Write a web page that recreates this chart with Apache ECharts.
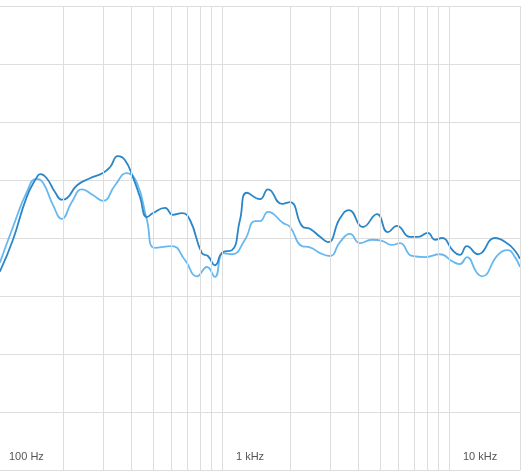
<!DOCTYPE html>
<html>
<head>
<meta charset="utf-8">
<script src="https://cdn.jsdelivr.net/npm/echarts@6/dist/echarts.min.js"></script>
<style>html,body{margin:0;padding:0;background:#fff}#chart{width:522px;height:476px}</style>
</head>
<body>
<div id="chart"></div>
<script>
// frequency (Hz) / level pairs
const darkFreq = [105,120,138,153,158,169,184,197,208,230,262,299,321,348,374,405,435,467,497,561,608,667,723,816,867,931,1010,1107,1200,1289,1469,1596,1837,1995,2275,2441,2704,2931,3311,3626,4178,4819,5383,5902,6730,7298,8072,8675,9312,10420,11170,11990,13420,15950,18030,19540,20560]
const darkLevel = [34.2,39.7,47.1,50.5,51.0,50.3,47.9,46.6,46.9,49.1,50.3,51.2,52.2,54.1,53.4,50.5,47.1,43.6,44.3,45.2,44.0,44.3,43.1,37.4,36.9,35.3,37.6,37.9,43.1,47.8,46.7,48.4,45.9,46.2,41.9,41.6,40.2,39.3,43.4,44.8,41.9,44.1,41.0,42.1,40.2,40.2,40.9,39.7,40.0,37.8,37.1,38.6,37.2,40.0,39.1,37.8,36.4]
const lightFreq = [105,120,138,152,163,180,197,218,242,270,299,338,381,422,467,507,602,687,776,859,931,1010,1107,1262,1397,1469,1596,1858,1995,2250,2441,2704,2992,3311,3664,4055,4581,5070,5610,6081,6871,7834,9128,10420,11170,11990,13270,13970,16440,18200,19540,20560]
const lightLevel = [35.7,41.9,47.9,50.2,49.5,45.7,43.3,46.2,48.4,47.4,46.4,49.1,51.2,49.5,43.1,38.3,38.6,36.2,33.4,35.0,33.3,37.4,37.2,39.7,42.9,42.9,44.5,42.6,41.9,38.6,38.4,37.4,36.9,39.3,40.7,39.1,39.7,39.5,38.8,39.1,36.9,36.7,37.2,35.9,35.5,36.7,34.0,33.4,37.1,37.9,36.7,35.0]
const gridFreqs = [200,300,400,500,600,700,800,900,1000,2000,3000,4000,5000,6000,7000,8000,9000,10000,20560]

const pairs = (xs, ys) => xs.map((x, i) => [x, ys[i]])
const chart = echarts.init(document.getElementById('chart'))
chart.setOption({
    animation: false,
    grid: {left: -5, right: 2, top: 6, bottom: 6, containLabel: false, outerBoundsMode: 'none'},
    xAxis: {
        type: 'log', logBase: 10, min: 100, max: 20560,
        axisLine: {show: true, lineStyle: {color: '#ddd'}},
        axisTick: {show: false},
        splitLine: {show: false},
        axisLabel: {
            inside: true, margin: 8, align: 'left', padding: [0, 0, 0, 14],
            showMaxLabel: false,
            color: '#555', fontSize: 11, fontFamily: 'Arial, Liberation Sans',
            formatter: v => v > 20000 ? '' : (v >= 1000 ? (v / 1000) + ' kHz' : v + ' Hz')
        }
    },
    yAxis: {
        type: 'value', min: 0, max: 80, interval: 10,
        axisLine: {show: false}, axisTick: {show: false}, axisLabel: {show: false},
        splitLine: {lineStyle: {color: '#ddd'}}
    },
    series: [
        {
            type: 'line', data: pairs(lightFreq, lightLevel), smooth: true, symbol: 'none',
            lineStyle: {color: '#66b8f0', width: 1.8},
            markLine: {
                silent: true, symbol: 'none', label: {show: false},
                lineStyle: {color: '#ddd', type: 'solid', width: 1},
                data: gridFreqs.map(f => ({xAxis: f}))
            },
            z: 2
        },
        {
            type: 'line', data: pairs(darkFreq, darkLevel), smooth: true, symbol: 'none',
            lineStyle: {color: '#2b86c8', width: 1.8},
            z: 3
        }
    ]
})
</script>
</body>
</html>
